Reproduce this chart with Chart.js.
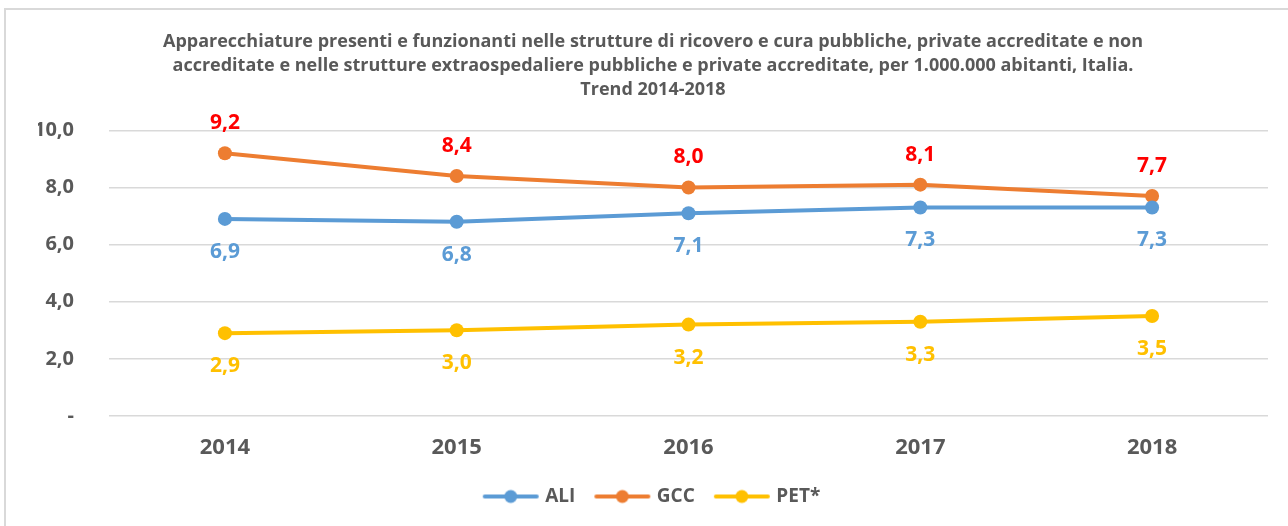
<!DOCTYPE html>
<html>
<head>
<meta charset="utf-8">
<style>
  html, body { margin: 0; padding: 0; background: #fff; }
  #wrap { position: relative; width: 1288px; height: 526px; overflow: hidden; }
  #frame { position: absolute; left: 4px; top: 8px; width: 1300px; height: 600px;
           border-top: 2px solid #d9d9d9; border-left: 2px solid #d9d9d9; }
  canvas { position: absolute; left: 0; top: 0; }
</style>
<script src="https://cdn.jsdelivr.net/npm/chart.js@4/dist/chart.umd.min.js"></script>
</head>
<body>
<div id="wrap">
  <div id="frame"></div>
  <canvas id="chart" width="1288" height="526"></canvas>
</div>
<script>
// Dati
const anni = ['2014', '2015', '2016', '2017', '2018'];
const ali = [6.9, 6.8, 7.1, 7.3, 7.3];
const gcc = [9.2, 8.4, 8.0, 8.1, 7.7];
const pet = [2.9, 3.0, 3.2, 3.3, 3.5];
const titolo = [
  'Apparecchiature presenti e funzionanti nelle strutture di ricovero e cura pubbliche, private accreditate e non',
  'accreditate e nelle strutture extraospedaliere pubbliche e private accreditate, per 1.000.000 abitanti, Italia.',
  'Trend 2014-2018'
];

const FONT = "'Open Sans', 'DejaVu Sans', sans-serif";
const GRIGIO = '#595959';

const virgola = v => v.toFixed(1).replace('.', ',');

// simbolo legenda: linea con cerchio
function simbolo(colore) {
  const c = document.createElement('canvas');
  c.width = 58;
  c.height = 16;
  const g = c.getContext('2d');
  g.strokeStyle = colore;
  g.lineWidth = 4;
  g.lineCap = 'round';
  g.beginPath();
  g.moveTo(3, 8);
  g.lineTo(55, 8);
  g.stroke();
  g.fillStyle = colore;
  g.beginPath();
  g.arc(29, 8, 6.5, 0, Math.PI * 2);
  g.fill();
  return c;
}

// etichette dei valori
const etichette = {
  id: 'etichette',
  afterDatasetsDraw(chart) {
    const ctx = chart.ctx;
    ctx.save();
    ctx.font = 'bold 21px ' + FONT;
    ctx.textAlign = 'center';
    ctx.textBaseline = 'middle';
    chart.data.datasets.forEach((ds, i) => {
      const meta = chart.getDatasetMeta(i);
      ctx.fillStyle = ds.labelColor;
      meta.data.forEach((pt, j) => {
        ctx.fillText(virgola(ds.data[j]), pt.x, pt.y + ds.labelOffset);
      });
    });
    ctx.restore();
  }
};

new Chart(document.getElementById('chart'), {
  type: 'line',
  data: {
    labels: anni,
    datasets: [
      { label: 'ALI', data: ali, borderColor: '#5B9BD5', backgroundColor: '#5B9BD5',
        labelColor: '#5B9BD5', labelOffset: 33 },
      { label: 'GCC', data: gcc, borderColor: '#ED7D31', backgroundColor: '#ED7D31',
        labelColor: '#FF0000', labelOffset: -30 },
      { label: 'PET*', data: pet, borderColor: '#FFC000', backgroundColor: '#FFC000',
        labelColor: '#FFC000', labelOffset: 33 }
    ]
  },
  options: {
    responsive: false,
    animation: false,
    devicePixelRatio: 1,
    layout: { padding: { left: 38, right: 20, top: 0, bottom: 10 } },
    elements: {
      line: { borderWidth: 4, tension: 0 },
      point: { pointStyle: 'circle', radius: 7, hoverRadius: 7, borderWidth: 0 }
    },
    plugins: {
      title: {
        display: true,
        text: titolo,
        color: GRIGIO,
        font: { family: FONT, size: 18, weight: 'bold', lineHeight: 1.34 },
        padding: { top: 30, bottom: 28 }
      },
      legend: {
        position: 'bottom',
        labels: {
          usePointStyle: true,
          pointStyleWidth: 50,
          boxHeight: 16,
          color: GRIGIO,
          font: { family: FONT, size: 19, weight: 'bold' },
          padding: 22,
          generateLabels(chart) {
            return chart.data.datasets.map((ds, i) => ({
              text: ds.label,
              pointStyle: simbolo(ds.borderColor),
              fontColor: GRIGIO,
              datasetIndex: i,
              hidden: false,
              lineWidth: 0
            }));
          }
        }
      },
      tooltip: { enabled: false }
    },
    scales: {
      x: {
        offset: true,
        grid: { display: false },
        border: { display: false },
        ticks: { color: GRIGIO, font: { family: FONT, size: 22, weight: 'bold' }, padding: 11 },
        afterFit(s) { s.height = 49; }
      },
      y: {
        min: 0,
        max: 10,
        grid: { color: '#d9d9d9', lineWidth: 1.5, drawTicks: false },
        border: { display: false },
        ticks: {
          stepSize: 2,
          padding: 35,
          color: GRIGIO,
          font: { family: FONT, size: 20, weight: 'bold' },
          callback: v => v === 0 ? '-' : virgola(v)
        },
        afterFit(s) { s.width = 71; }
      }
    }
  },
  plugins: [etichette]
});
</script>
</body>
</html>
